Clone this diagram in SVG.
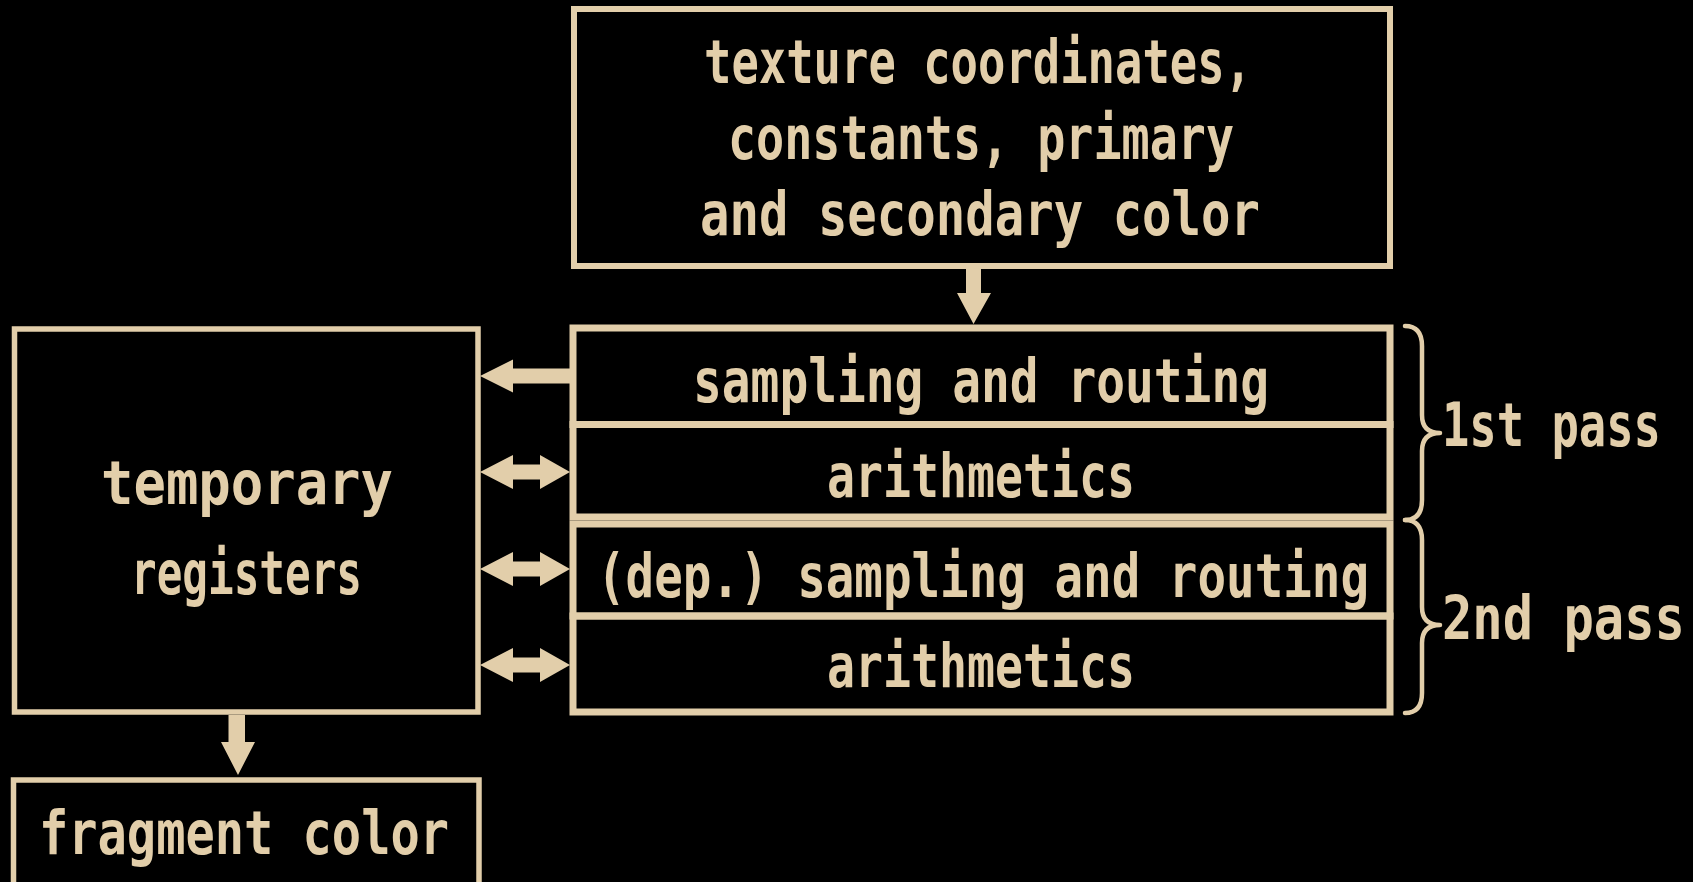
<svg xmlns="http://www.w3.org/2000/svg" width="1693" height="882" viewBox="0 0 1693 882">
<style>
.bg{fill:#000}
.box{fill:none;stroke:#E2CEAA}
.t{fill:#E2CEAA;font-family:"DejaVu Sans Mono","Liberation Mono",monospace;font-size:61px;font-weight:bold}
.ar{fill:#E2CEAA}
.br{fill:none;stroke:#E2CEAA;stroke-width:4.5;stroke-linecap:round;stroke-linejoin:round}
</style>
<rect class="bg" x="0" y="0" width="1693" height="882"/>
<g id="inputs">
<rect class="box" x="574" y="9" width="816" height="257" stroke-width="6"/>
<text class="t" x="704" y="83" textLength="548" lengthAdjust="spacingAndGlyphs">texture coordinates,</text>
<text class="t" x="728" y="159" textLength="506" lengthAdjust="spacingAndGlyphs">constants, primary</text>
<text class="t" x="700" y="235" textLength="560" lengthAdjust="spacingAndGlyphs">and secondary color</text>
</g>
<g id="sampling1">
<rect class="box" x="573" y="328" width="817" height="96.5" stroke-width="7"/>
<text class="t" x="693" y="402" textLength="576" lengthAdjust="spacingAndGlyphs">sampling and routing</text>
</g>
<g id="arith1">
<rect class="box" x="573" y="424.5" width="817" height="92.5" stroke-width="7"/>
<text class="t" x="827" y="497" textLength="308" lengthAdjust="spacingAndGlyphs">arithmetics</text>
</g>
<g id="sampling2">
<rect class="box" x="573" y="524" width="817" height="92" stroke-width="7"/>
<text class="t" x="597" y="597" textLength="772" lengthAdjust="spacingAndGlyphs">(dep.) sampling and routing</text>
</g>
<g id="arith2">
<rect class="box" x="573" y="616" width="817" height="96" stroke-width="7"/>
<text class="t" x="827" y="687" textLength="308" lengthAdjust="spacingAndGlyphs">arithmetics</text>
</g>
<g id="registers">
<rect class="box" x="14.5" y="329" width="463.5" height="383" stroke-width="5.5"/>
<text class="t" x="101" y="504" textLength="292" lengthAdjust="spacingAndGlyphs">temporary</text>
<text class="t" x="131" y="594" textLength="231" lengthAdjust="spacingAndGlyphs">registers</text>
</g>
<g id="fragment">
<rect class="box" x="13.5" y="780" width="465.5" height="120" stroke-width="5.5"/>
<text class="t" x="39" y="854" textLength="410" lengthAdjust="spacingAndGlyphs">fragment color</text>
</g>
<g id="pass1">
<path class="br" d="M1405,326 Q1422,326 1422,346 L1422,415 Q1422,433 1440,433 Q1422,433 1422,451 L1422,500 Q1422,520 1405,520"/>
<text class="t" x="1442" y="446" textLength="219" lengthAdjust="spacingAndGlyphs">1st pass</text>
</g>
<g id="pass2">
<path class="br" d="M1405,520 Q1422,520 1422,540 L1422,607 Q1422,625 1440,625 Q1422,625 1422,643 L1422,693 Q1422,713 1405,713"/>
<text class="t" x="1442" y="639" textLength="243" lengthAdjust="spacingAndGlyphs">2nd pass</text>
</g>
<g id="connectors">
<polygon class="ar" points="966,269 981,269 981,293 991,293 973.5,324 957,293 966,293"/>
<polygon class="ar" points="228.5,715 245,715 245,742 255,742 238,775 221,742 228.5,742"/>
<polygon class="ar" points="480,376 513,359.5 513,368.5 571,368.5 571,383.5 513,383.5 513,392.5"/>
<polygon class="ar" points="480,472 513,455 513,464.5 540,464.5 540,455 570,472 540,489 540,479.5 513,479.5 513,489"/>
<polygon class="ar" points="480,569 513,552 513,561.5 540,561.5 540,552 570,569 540,586 540,576.5 513,576.5 513,586"/>
<polygon class="ar" points="480,665 513,648 513,657.5 540,657.5 540,648 570,665 540,682 540,672.5 513,672.5 513,682"/>
</g>
</svg>
